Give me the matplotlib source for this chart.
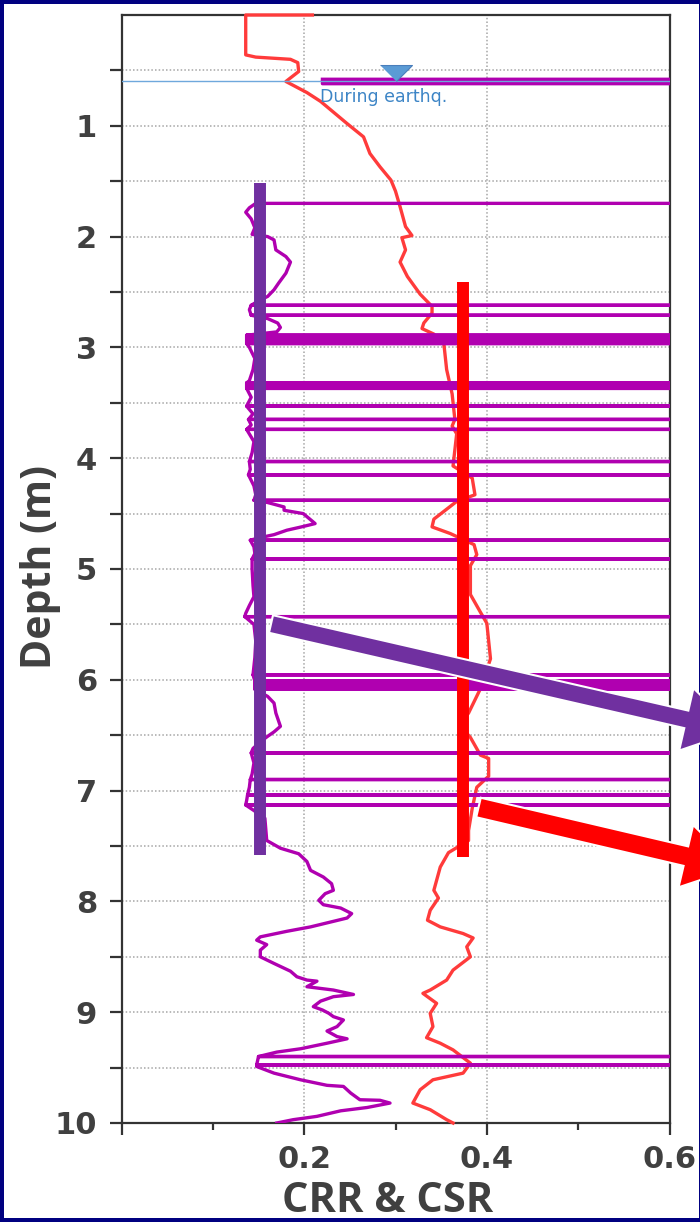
import matplotlib
matplotlib.use('Agg')
import matplotlib.pyplot as plt
from matplotlib.patches import FancyArrow, Rectangle
from matplotlib.ticker import FixedLocator

OFF = 3.0  # CRR value beyond the plotted range (spikes clipped at right edge)

# CSR (red) profile
csr_depth = [0.00, 0.00, 0.36, 0.38, 0.40, 0.43, 0.51, 0.60, 0.70, 0.78,
             0.98, 1.10, 1.25, 1.37, 1.49, 1.59, 1.73, 1.91, 1.99, 2.01,
             2.12, 2.23, 2.36, 2.52, 2.63, 2.69, 2.78, 2.83, 2.88, 2.97,
             3.20, 3.42, 3.65, 3.71, 3.78, 4.07, 4.18, 4.33, 4.39, 4.55,
             4.62, 4.68, 4.78, 4.87, 4.97, 5.23, 5.39, 5.49, 5.65, 5.81,
             6.08, 6.30, 6.41, 6.52, 6.68, 6.71, 6.87, 6.97, 7.16, 7.36,
             7.45, 7.56, 7.69, 7.90, 7.97, 8.08, 8.17, 8.23, 8.29, 8.33,
             8.41, 8.50, 8.62, 8.71, 8.80, 8.83, 8.92, 9.01, 9.13, 9.23,
             9.28, 9.34, 9.46, 9.55, 9.61, 9.70, 9.82, 9.88, 9.97, 10.00]
csr_value = [0.209, 0.136, 0.136, 0.147, 0.185, 0.193, 0.194, 0.180, 0.203, 0.218,
             0.247, 0.265, 0.272, 0.283, 0.295, 0.300, 0.305, 0.311, 0.318, 0.307,
             0.311, 0.305, 0.313, 0.327, 0.340, 0.340, 0.331, 0.329, 0.342, 0.353,
             0.356, 0.362, 0.365, 0.362, 0.367, 0.363, 0.384, 0.387, 0.367, 0.342,
             0.340, 0.360, 0.386, 0.389, 0.382, 0.382, 0.393, 0.400, 0.402, 0.404,
             0.393, 0.380, 0.370, 0.382, 0.393, 0.402, 0.402, 0.389, 0.384, 0.380,
             0.380, 0.358, 0.349, 0.342, 0.347, 0.338, 0.335, 0.349, 0.374, 0.385,
             0.378, 0.382, 0.363, 0.356, 0.338, 0.330, 0.345, 0.338, 0.341, 0.334,
             0.349, 0.363, 0.382, 0.374, 0.341, 0.327, 0.319, 0.338, 0.356, 0.363]

# CRR (purple) profile; OFF entries run off the right edge of the chart
crr_depth = [0.58, 0.58, 0.595, 0.595, 0.605, 0.605, 0.615, 0.615, 0.62, 0.62, 1.70, 1.70,
             1.74, 1.78, 1.84, 1.92, 1.98, 2.00, 2.03, 2.12, 2.18, 2.23, 2.33, 2.42, 2.48, 2.54, 2.58,
             2.62, 2.62, 2.62,
             2.66,
             2.71, 2.71, 2.71,
             2.74, 2.78, 2.82, 2.86,
             2.89, 2.89, 2.89,
             2.915, 2.915, 2.915,
             2.94, 2.94, 2.94,
             2.965, 2.965, 2.965,
             3.00, 3.10, 3.20, 3.30,
             3.32, 3.32, 3.32,
             3.345, 3.345, 3.345,
             3.37, 3.37, 3.37,
             3.45,
             3.53, 3.53, 3.53,
             3.60,
             3.65, 3.65, 3.65,
             3.70,
             3.74, 3.74, 3.74,
             3.85, 3.95,
             4.03, 4.03, 4.03,
             4.10,
             4.15, 4.15, 4.15,
             4.25, 4.33,
             4.38, 4.38, 4.38,
             4.40, 4.44, 4.47, 4.50, 4.59, 4.62, 4.65, 4.69, 4.72,
             4.74, 4.74, 4.74,
             4.80, 4.86,
             4.91, 4.91, 4.91,
             5.00, 5.15, 5.25, 5.33, 5.40,
             5.43, 5.43, 5.43,
             5.50, 5.65, 5.80,
             5.955, 5.955, 5.955,
             6.01, 6.01, 6.01,
             6.035, 6.035, 6.035,
             6.06, 6.06, 6.06,
             6.085, 6.085, 6.085,
             6.15, 6.21, 6.30, 6.42, 6.47, 6.51, 6.56, 6.62,
             6.66, 6.66, 6.66,
             6.75, 6.85,
             6.90, 6.90, 6.90,
             6.97,
             7.04, 7.04, 7.04,
             7.09,
             7.13, 7.13, 7.13,
             7.18, 7.25, 7.35, 7.45, 7.52, 7.57, 7.64, 7.72, 7.78, 7.84,
             7.90, 7.93, 7.99, 8.03, 8.06, 8.11, 8.15, 8.18, 8.23, 8.27,
             8.32, 8.35, 8.39, 8.44, 8.50, 8.56, 8.63, 8.68, 8.71, 8.72,
             8.77, 8.80, 8.84, 8.86, 8.90, 8.95, 8.98, 9.01, 9.04, 9.07,
             9.13, 9.17, 9.22, 9.24, 9.28, 9.33, 9.36,
             9.40, 9.40, 9.40,
             9.475, 9.475, 9.475,
             9.49, 9.55, 9.61, 9.66, 9.67, 9.73, 9.79, 9.795, 9.82, 9.86,
             9.89, 9.94, 9.97, 10.00]
crr_value = [0.220, OFF, OFF, 0.220, 0.220, OFF, OFF, 0.220, 0.220, OFF, OFF, 0.147,
             0.140, 0.136, 0.142, 0.146, 0.143, 0.160, 0.167, 0.169, 0.180, 0.185, 0.180, 0.172, 0.167, 0.160, 0.150,
             0.142, OFF, 0.142,
             0.140,
             0.142, OFF, 0.142,
             0.160, 0.171, 0.174, 0.170,
             0.137, OFF, 0.137,
             0.137, OFF, 0.137,
             0.137, OFF, 0.137,
             0.137, OFF, 0.137,
             0.140, 0.146, 0.144, 0.140,
             0.137, OFF, 0.137,
             0.137, OFF, 0.137,
             0.137, OFF, 0.137,
             0.142,
             0.137, OFF, 0.137,
             0.144,
             0.139, OFF, 0.139,
             0.142,
             0.137, OFF, 0.137,
             0.145, 0.143,
             0.140, OFF, 0.140,
             0.141,
             0.139, OFF, 0.139,
             0.145, 0.147,
             0.145, OFF, 0.145,
             0.160, 0.178, 0.178, 0.199, 0.212, 0.197, 0.181, 0.167, 0.150,
             0.141, OFF, 0.141,
             0.145, 0.146,
             0.143, OFF, 0.143,
             0.143, 0.144, 0.145, 0.140, 0.136,
             0.135, OFF, 0.135,
             0.145, 0.147, 0.146,
             0.144, OFF, 0.144,
             0.146, OFF, 0.146,
             0.146, OFF, 0.146,
             0.146, OFF, 0.146,
             0.146, OFF, 0.146,
             0.160, 0.167, 0.169, 0.174, 0.167, 0.160, 0.152, 0.144,
             0.142, OFF, 0.142,
             0.145, 0.143,
             0.141, OFF, 0.141,
             0.140,
             0.138, OFF, 0.138,
             0.137,
             0.136, OFF, 0.136,
             0.145, 0.157, 0.158, 0.159, 0.174, 0.194, 0.203, 0.207, 0.221, 0.230,
             0.232, 0.223, 0.216, 0.221, 0.240, 0.252, 0.247, 0.232, 0.207, 0.181,
             0.152, 0.148, 0.159, 0.152, 0.152, 0.167, 0.185, 0.192, 0.203, 0.214,
             0.203, 0.232, 0.254, 0.232, 0.218, 0.210, 0.220, 0.227, 0.232, 0.243,
             0.236, 0.225, 0.236, 0.247, 0.225, 0.196, 0.170,
             0.150, OFF, 0.150,
             0.148, OFF, 0.148,
             0.148, 0.167, 0.196, 0.225, 0.243, 0.251, 0.261, 0.283, 0.294, 0.269,
             0.240, 0.214, 0.188, 0.170]

water_depth = 0.60
water_marker_x = 0.30
water_label = "During earthq."

crr_bar_x, crr_bar_top, crr_bar_bottom = 0.152, 1.52, 7.58
csr_bar_x, csr_bar_top, csr_bar_bottom = 0.374, 2.41, 7.60

x_major = [0.0, 0.2, 0.4, 0.6]
x_major_labels = ['', '0.2', '0.4', '0.6']
x_minor = [0.1, 0.3, 0.5]
y_major = [1, 2, 3, 4, 5, 6, 7, 8, 9, 10]
y_minor = [0.5, 1.5, 2.5, 3.5, 4.5, 5.5, 6.5, 7.5, 8.5, 9.5]

W, H = 700, 1222
fig = plt.figure(figsize=(W / 100, H / 100), dpi=100, facecolor='#000080')
fig.patches.append(Rectangle((4 / W, 4 / H), (699 - 4) / W, (1218 - 4) / H,
                             transform=fig.transFigure, facecolor='white',
                             edgecolor='none', zorder=-5))

ax = fig.add_axes([121.5 / W, 1 - 1123 / H, 548 / W, 1108 / H])
ax.set_facecolor('white')
ax.set_xlim(0, 0.6)
ax.set_ylim(10, 0)

grid_kw = dict(color='#a6a6a6', linestyle=(0, (1.0, 1.4)), linewidth=1.1)
ax.set_xticks(x_major)
ax.set_xticklabels(x_major_labels)
ax.xaxis.set_minor_locator(FixedLocator(x_minor))
ax.set_yticks(y_major)
ax.set_yticklabels([str(v) for v in y_major])
ax.yaxis.set_minor_locator(FixedLocator(y_minor))
ax.grid(True, axis='y', which='both', **grid_kw)
ax.grid(True, axis='x', which='major', **grid_kw)

for lab in ax.get_xticklabels() + ax.get_yticklabels():
    lab.set_fontfamily('DejaVu Sans')
    lab.set_fontweight('bold')
    lab.set_fontsize(22)
    lab.set_color('#404040')
ax.tick_params(axis='y', which='both', direction='out', length=8.6, width=1.6,
               color='#333333', pad=9)
ax.tick_params(axis='x', which='major', direction='out', length=8.6, width=1.6,
               color='#333333', pad=7)
ax.tick_params(axis='x', which='minor', direction='out', length=5.0, width=1.6,
               color='#333333')
for sp in ax.spines.values():
    sp.set_color('#333333')
    sp.set_linewidth(1.6)
    sp.set_zorder(2.0)

# profiles
ax.plot(csr_value, csr_depth, color='#ff3b3b', lw=2.4, zorder=2.1,
        clip_on=False, solid_joinstyle='round')
ax.plot(crr_value, crr_depth, color='#b000b0', lw=2.4, zorder=2.2,
        solid_joinstyle='round')

# water table
ax.axhline(water_depth, color='#6fa8dc', lw=1.0, zorder=3.5)
ax.plot([water_marker_x], [water_depth], linestyle='none',
        marker=[(-1, 1), (1, 1), (0, 0)], markersize=23,
        markerfacecolor='#5b9bd5', markeredgecolor='#4a7ebb',
        markeredgewidth=0.8, zorder=3.6, clip_on=False)
ax.text(0.2175, water_depth + 0.055, water_label, color='#3d85c6',
        fontsize=12.5, family='DejaVu Sans', va='top', ha='left', zorder=3.6)

# annotation bars
ax.plot([crr_bar_x, crr_bar_x], [crr_bar_top, crr_bar_bottom], color='#7030a0',
        lw=8.6, solid_capstyle='butt', zorder=4)
ax.plot([csr_bar_x, csr_bar_x], [csr_bar_top, csr_bar_bottom], color='#ff0000',
        lw=8.6, solid_capstyle='butt', zorder=4)

# overlay in pixel coordinates for arrows and axis titles
ov = fig.add_axes([0, 0, 1, 1], zorder=5)
ov.set_xlim(0, W)
ov.set_ylim(H, 0)
ov.axis('off')
ov.patch.set_alpha(0)

def arrow(x0, y0, x1, y1, shaft, color):
    ov.add_patch(FancyArrow(x0, y0, x1 - x0, y1 - y0, width=shaft,
                            head_width=64, head_length=52,
                            length_includes_head=True, facecolor=color,
                            edgecolor='white', linewidth=1.5, clip_on=False))

arrow(271, 624, 737, 731, 18, '#7030a0')
arrow(478.5, 807.5, 736.5, 868, 20, '#ff0000')

ov.text(388, 1212, 'CRR & CSR', ha='center', va='baseline', color='#404040',
        fontsize=30, family=['Open Sans', 'DejaVu Sans'], weight='bold')
ov.text(41, 567, 'Depth (m)', ha='center', va='center', rotation=90,
        color='#404040', fontsize=29.5, family=['Open Sans', 'DejaVu Sans'],
        weight='bold')

fig.savefig('out.png', dpi=100, facecolor=fig.get_facecolor())
